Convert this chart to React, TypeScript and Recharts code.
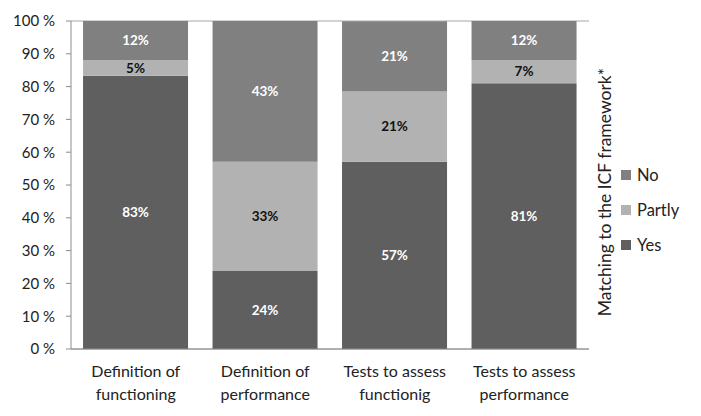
import React from "react";
import { BarChart, Bar, XAxis, YAxis, CartesianGrid, LabelList } from "recharts";

const categories = [
  "Definition of|functioning",
  "Definition of|performance",
  "Tests to assess|functionig",
  "Tests to assess|performance",
];
const yesValues = [83.3, 23.8, 57.1, 81.0];
const partlyValues = [4.8, 33.3, 21.4, 7.1];
const noValues = [11.9, 42.9, 21.4, 11.9];
const yTicks = [0, 10, 20, 30, 40, 50, 60, 70, 80, 90, 100];
const boundaryTicks = [0, 1, 2, 3, 4];
const legendNames = ["No", "Partly", "Yes"];

const data = categories.map((c, i) => ({
  name: c,
  Yes: yesValues[i],
  Partly: partlyValues[i],
  No: noValues[i],
}));

const COLORS: Record<string, string> = { Yes: "#5f5f5f", Partly: "#b2b2b2", No: "#808080" };
const FONT = "Lato, 'Open Sans', sans-serif";

const CatTick = (props: any) => {
  const { x, y, payload } = props;
  const lines = String(payload.value).split("|");
  return (
    <text x={x} y={y} textAnchor="middle" fontFamily={FONT} fontSize={16} fill="#222">
      {lines.map((l, i) => (
        <tspan key={i} x={x} dy={i === 0 ? 14 : 23}>
          {l}
        </tspan>
      ))}
    </text>
  );
};

const LegendBox = () => (
  <div style={{ position: "absolute", left: 621, top: 157, fontFamily: FONT, fontSize: 16.5, color: "#222" }}>
    {legendNames.map((n) => (
      <div key={n} style={{ display: "flex", alignItems: "center", height: 35 }}>
        <span style={{ width: 10, height: 10, background: COLORS[n], display: "inline-block", marginRight: 6 }} />
        <span>{n}</span>
      </div>
    ))}
  </div>
);

const fmt = (v: any) => `${Math.round(Number(v))}%`;

export default function App() {
  return (
    <div style={{ position: "absolute", left: 0, top: 0, width: 701, height: 416, background: "#fff" }}>
      <BarChart
        width={701}
        height={416}
        data={data}
        margin={{ top: 21, right: 82, bottom: 0, left: 0 }}
        barCategoryGap="9.3%"
      >
        <CartesianGrid vertical={false} stroke="#a6a6a6" />
        <XAxis
          xAxisId="b"
          type="number"
          domain={[0, 4]}
          ticks={boundaryTicks}
          tick={false}
          tickSize={6}
          height={6}
          stroke="#8c8c8c"
          allowDataOverflow
        />
        <XAxis
          xAxisId="c"
          dataKey="name"
          axisLine={false}
          tickLine={false}
          tick={<CatTick />}
          height={61}
          interval={0}
        />
        <YAxis
          yAxisId="l"
          domain={[0, 100]}
          ticks={yTicks}
          width={71}
          tickSize={5}
          tickMargin={11}
          stroke="#8c8c8c"
          tickFormatter={(v) => `${v} %`}
          tick={{ fontFamily: FONT, fontSize: 15, fill: "#222" }}
          interval={0}
        />
        <YAxis
          yAxisId="r"
          orientation="right"
          domain={[0, 100]}
          width={30}
          tick={false}
          axisLine={false}
          tickLine={false}
          label={{
            value: "Matching to the ICF framework*",
            angle: -90,
            position: "center",
            dx: 1,
            dy: 7,
            style: { fontFamily: FONT, fontSize: 17.5, fill: "#222" },
          }}
        />
        <Bar dataKey="Yes" stackId="s" xAxisId="c" yAxisId="l" fill={COLORS.Yes} isAnimationActive={false}>
          <LabelList dataKey="Yes" position="center" formatter={fmt} fill="#fff" fontFamily={FONT} fontSize={13.5} fontWeight="bold" />
        </Bar>
        <Bar dataKey="Partly" stackId="s" xAxisId="c" yAxisId="l" fill={COLORS.Partly} isAnimationActive={false}>
          <LabelList dataKey="Partly" position="center" formatter={fmt} fill="#111" fontFamily={FONT} fontSize={13.5} fontWeight="bold" />
        </Bar>
        <Bar dataKey="No" stackId="s" xAxisId="c" yAxisId="l" fill={COLORS.No} isAnimationActive={false}>
          <LabelList dataKey="No" position="center" formatter={fmt} fill="#fff" fontFamily={FONT} fontSize={13.5} fontWeight="bold" />
        </Bar>
      </BarChart>
      <LegendBox />
    </div>
  );
}
